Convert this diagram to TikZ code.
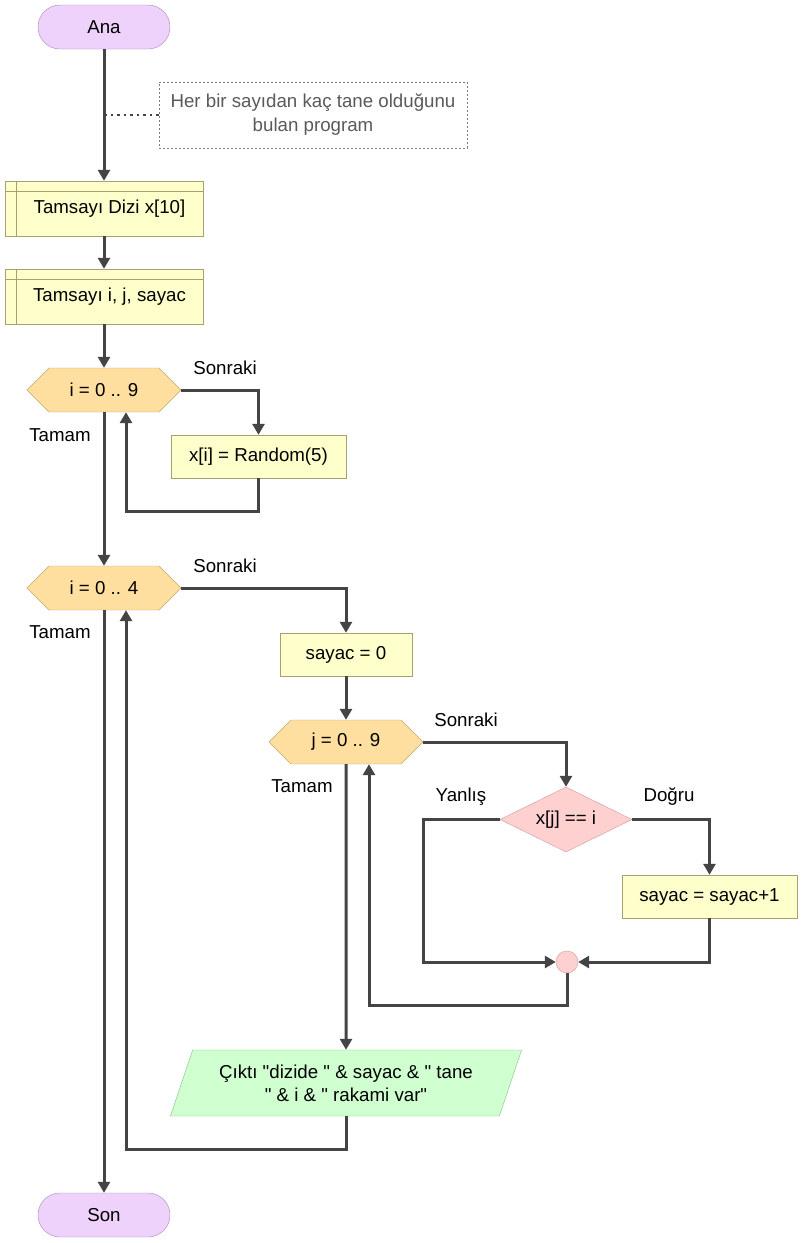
\documentclass[tikz,border=0pt]{standalone}
\usepackage{fontspec}
\newfontfamily\mainf{Liberation Sans}
\usetikzlibrary{shapes.geometric,shapes.symbols,shapes.misc,arrows.meta}
\definecolor{ln}{HTML}{444444}
\definecolor{termfill}{HTML}{EED2FC}
\definecolor{termdraw}{HTML}{A888B8}
\definecolor{boxfill}{HTML}{FFFFCC}
\definecolor{boxdraw}{HTML}{A8A070}
\definecolor{hexfill}{HTML}{FFDF9F}
\definecolor{hexdraw}{HTML}{C8A868}
\definecolor{decfill}{HTML}{FFD0D0}
\definecolor{decdraw}{HTML}{D09898}
\definecolor{outfill}{HTML}{D0FFD0}
\definecolor{outdraw}{HTML}{80C080}
\definecolor{cmt}{HTML}{5A5A5A}
\begin{document}
\begin{tikzpicture}[x=1pt,y=-1pt,
  every node/.style={font=\mainf\fontsize{18.7}{22}\selectfont, inner sep=0pt},
  term/.style={rounded rectangle, draw=termdraw, fill=termfill, minimum width=132pt, minimum height=44pt},
  proc/.style={rectangle, draw=boxdraw, fill=boxfill, minimum height=43pt},
  declbox/.style={rectangle, draw=boxdraw, fill=boxfill, minimum width=198pt, minimum height=55pt,
     path picture={\draw[boxdraw] ([yshift=-10pt]path picture bounding box.north west) -- ([yshift=-10pt]path picture bounding box.north east);
                   \draw[boxdraw] ([xshift=11pt]path picture bounding box.north west) -- ([xshift=11pt]path picture bounding box.south west);}},
  hexa/.style={signal, signal to=west and east, signal pointer angle=90, draw=hexdraw, fill=hexfill, minimum width=154pt, minimum height=44pt},
  dec/.style={diamond, draw=decdraw, fill=decfill, minimum width=132pt, minimum height=65pt, aspect=2},
  conn/.style={circle, draw=decdraw, fill=decfill, minimum size=22pt},
  outp/.style={trapezium, trapezium left angle=63.4, trapezium right angle=116.6, trapezium stretches=true, draw=outdraw, fill=outfill, minimum width=352pt, minimum height=66pt, align=center},
  flow/.style={draw=ln, line width=3pt, -{Triangle[length=11pt,width=12pt]}}
]
\useasboundingbox (0,0) rectangle (803,1243);
\fill[white] (0,0) rectangle (803,1243);

\node[term] (ana) at (104,27) {Ana};
\node[draw=cmt!80, dash pattern=on 2pt off 2pt, minimum width=308pt, minimum height=66pt, align=center, text=cmt] (cm) at (313,115) {Her bir sayıdan kaç tane olduğunu\\[2pt]bulan program};
\node[declbox] (d1) at (104,208.5) {\hspace*{11pt}\raisebox{-5pt}{Tamsayı Dizi x[10]}};
\node[declbox] (d2) at (104,296.5) {\hspace*{11pt}\raisebox{-5pt}{Tamsayı i, j, sayac}};
\node[hexa] (h1) at (104,390) {i = 0 .. 9};
\node[proc, minimum width=175pt] (r) at (258.5,456.5) {x[i] = Random(5)};
\node[hexa] (h2) at (104,588) {i = 0 .. 4};
\node[proc, minimum width=132pt] (s0) at (346,654.5) {sayac = 0};
\node[hexa] (h3) at (346,742) {j = 0 .. 9};
\node[dec] (dc) at (566,819.5) {x[j] == i};
\node[proc, minimum width=175pt] (inc) at (709.5,896.5) {sayac = sayac+1};
\node[conn] (c) at (567,962) {};
\node[outp] (out) at (346,1083) {Çıktı "dizide " \& sayac \& " tane\\[1pt]" \& i \& " rakami var"};
\node[term] (son) at (104,1215) {Son};

\node (l1) at (225,368) {Sonraki};
\node (t1) at (60,435) {Tamam};
\node (l2) at (225,566) {Sonraki};
\node (t2) at (60,632) {Tamam};
\node (l3) at (466,720) {Sonraki};
\node (t3) at (302,786) {Tamam};
\node (yl) at (461,797) {Yanlış};
\node (dg) at (669,797) {Doğru};

\coordinate (cmA) at (104,115);
\draw[ln, line width=2pt, dash pattern=on 2.5pt off 4pt] (cmA) -- (cm.west);

\draw[flow] (ana.south) -- (d1.north);
\draw[flow] (d1.south) -- (d2.north);
\draw[flow] (d2.south) -- (h1.north);
\draw[flow] (h1.east) -| (r.north);
\draw[flow] (r.south) -- ++(0,33) -| ([xshift=22pt]h1.south);
\draw[flow] (h1.south) -- (h2.north);
\draw[flow] (h2.east) -| (s0.north);
\draw[flow] (s0.south) -- (h3.north);
\draw[flow] (h3.east) -| (dc.north);
\draw[flow] (dc.west) -- ++(-76,0) |- (c.west);
\draw[flow] (dc.east) -| (inc.north);
\draw[flow] (inc.south) |- (c.east);
\draw[flow] (c.south) -- ++(0,32) -| ([xshift=23pt]h3.south);
\draw[flow] (h3.south) -- (out.north);
\draw[flow] (out.south) -- ++(0,33) -| ([xshift=22pt]h2.south);
\draw[flow] (h2.south) -- (son.north);
\end{tikzpicture}
\end{document}
